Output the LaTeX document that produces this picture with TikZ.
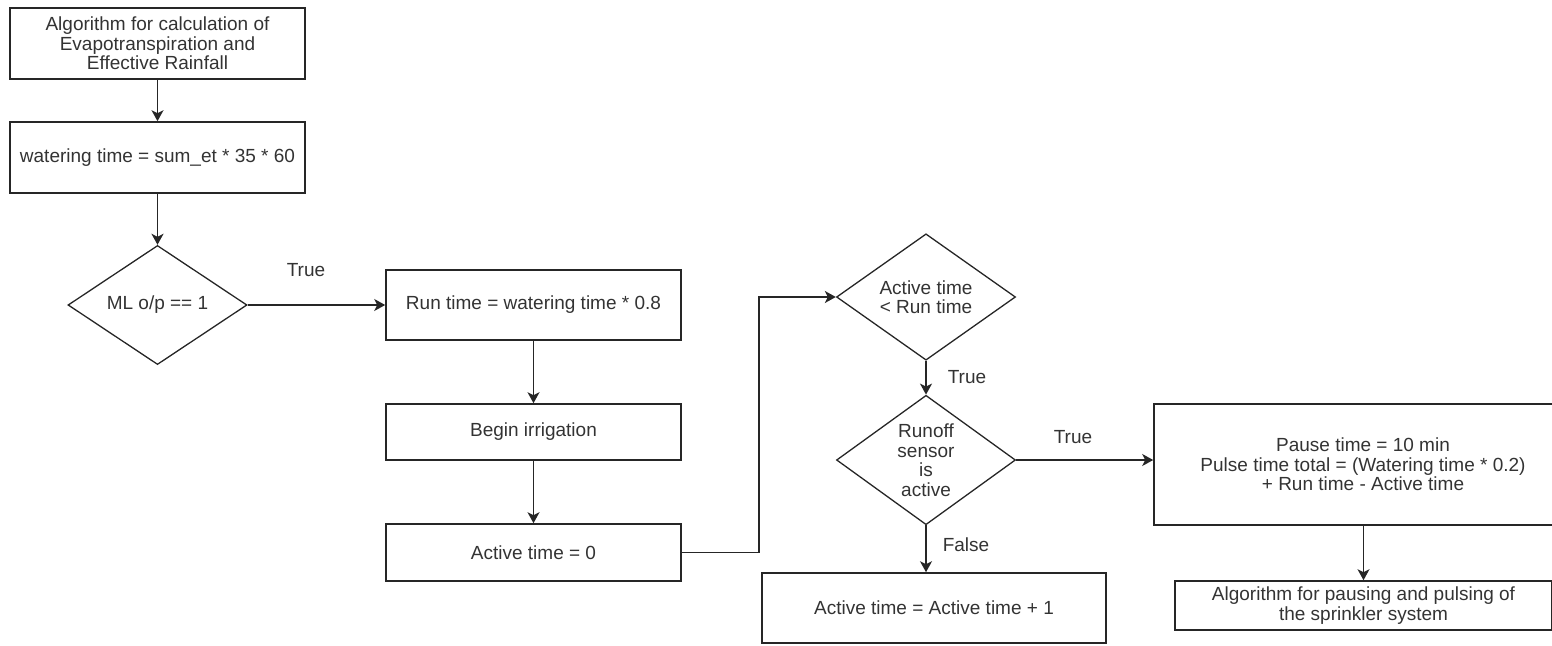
\documentclass[tikz,border=0pt]{standalone}
\usepackage{fontspec}
\setmainfont{Liberation Sans}
\usetikzlibrary{shapes.geometric,arrows.meta}
\begin{document}
\begin{tikzpicture}[x=1pt,y=-1pt,
  every node/.style={font=\fontsize{19}{19.5}\selectfont, text=black!80},
  procbox/.style={draw=black!85, line width=1.6pt, rectangle, inner sep=0pt, align=center},
  decision/.style={draw=black!85, line width=1.3pt, diamond, inner sep=0pt, align=center},
  flow/.style={draw=black!85, line width=1.6pt, -{Stealth[length=11pt,width=12pt,inset=3pt]}},
  lbl/.style={inner sep=0pt}]
\useasboundingbox (0,0) rectangle (1552,645);

% left column
\node[procbox, minimum width=295pt, minimum height=71pt] (alg) at (157.5,43.5)
  {Algorithm for calculation of\\Evapotranspiration and\\Effective Rainfall};
\node[procbox, minimum width=295pt, minimum height=71pt] (wt) at (157.5,157.5)
  {watering time = sum\_et * 35 * 60};
\node[decision, minimum width=179pt, minimum height=114pt] (ml) at (157.5,305)
  {ML o/p == 1};

% middle column
\node[procbox, minimum width=295pt, minimum height=70pt] (run) at (533.5,305)
  {Run time = watering time * 0.8};
\node[procbox, minimum width=295pt, minimum height=56pt] (begin) at (533.5,432)
  {Begin irrigation};
\node[procbox, minimum width=295pt, minimum height=57pt] (act0) at (533.5,552.5)
  {Active time = 0};

% loop decisions
\node[decision, minimum width=179pt, minimum height=126pt] (cmp) at (926,297)
  {Active time\\< Run time};
\node[decision, minimum width=179pt, minimum height=126pt] (runoff) at (926,460)
  {Runoff\\sensor\\is\\active};
\node[procbox, minimum width=344pt, minimum height=70pt] (inc) at (934,608)
  {Active time = Active time + 1};

% right column
\node[procbox, minimum width=418pt, minimum height=121pt] (pause) at (1363,464.5)
  {Pause time = 10 min\\Pulse time total = (Watering time * 0.2)\\+ Run time - Active time};
\node[procbox, minimum width=377pt, minimum height=49pt] (pulse) at (1363.5,605.5)
  {Algorithm for pausing and pulsing of\\the sprinkler system};

% connectors
\draw[flow] (alg) -- (wt);
\draw[flow] (wt) -- (ml);
\draw[flow] (ml.east) -- (run.west);
\draw[flow] (run) -- (begin);
\draw[flow] (begin) -- (act0);
\draw[flow] (act0.east) -- ++(77,0) |- (cmp.west);
\draw[flow] (cmp.south) -- (runoff.north);
\draw[flow] (runoff.east) -- (runoff.east -| pause.west);
\draw[flow] (runoff.south) -- (runoff.south |- inc.north);
\draw[flow] (pause.south -| pulse.north) -- (pulse.north);

% branch labels
\node[lbl] (t1) at (306,270) {True};
\node[lbl] (t2) at (967,377) {True};
\node[lbl] (t3) at (1073,437) {True};
\node[lbl] (f1) at (966,545) {False};
\end{tikzpicture}
\end{document}
